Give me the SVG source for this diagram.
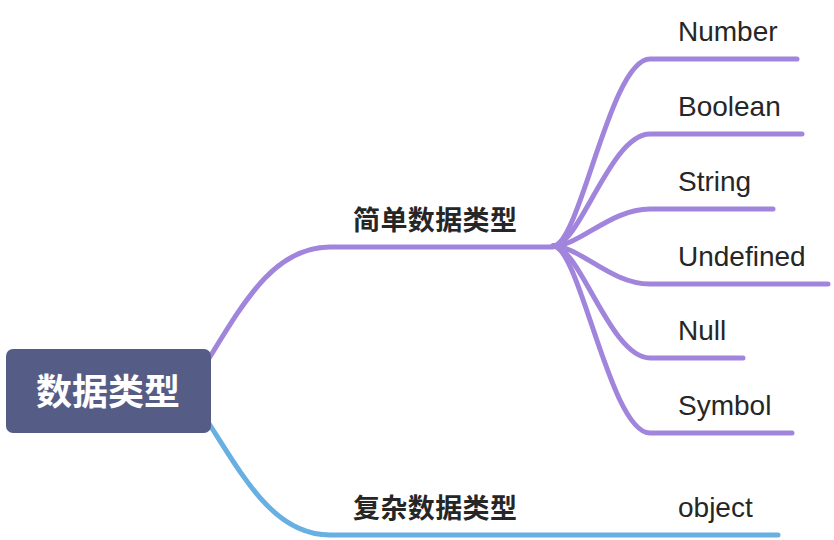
<svg xmlns="http://www.w3.org/2000/svg" width="834" height="540" viewBox="0 0 834 540">
<style>
.p{fill:none;stroke:#a185dd;stroke-width:5;stroke-linecap:round}
.b{fill:none;stroke:#68afe2;stroke-width:5;stroke-linecap:round}
.leaf{font-family:"Liberation Sans","Noto Sans CJK SC",sans-serif;font-size:28px;fill:#262626}
.sub{font-family:"Noto Sans CJK SC",sans-serif;font-size:27px;font-weight:bold;fill:#262626;letter-spacing:0.4px}
.root{font-family:"Noto Sans CJK SC",sans-serif;font-size:36px;font-weight:bold;fill:#ffffff}
</style>
<rect width="834" height="540" fill="#ffffff"/>
<g id="connectors">
<path class="p" d="M208,360 C245,300 275,247 330,247 L553,247"/>
<path class="b" d="M208,422 C245,480 275,535 330,535 L778,535"/>
<path class="p" d="M553,246 C580,246 610,59 650,59 L797,59"/>
<path class="p" d="M553,246 C580,246 610,134 650,134 L802,134"/>
<path class="p" d="M553,246 C580,246 610,209 650,209 L773,209"/>
<path class="p" d="M553,246 C580,246 610,284 650,284 L828,284"/>
<path class="p" d="M553,246 C580,246 610,358 650,358 L743,358"/>
<path class="p" d="M553,246 C580,246 610,433 650,433 L792,433"/>
</g>
<g id="root">
<rect x="6" y="349" width="205" height="84" rx="7" fill="#555d86"/>
<text class="root" x="108" y="405" text-anchor="middle">数据类型</text>
</g>
<g id="simple"><text class="sub" x="353" y="230">简单数据类型</text></g>
<g id="complex"><text class="sub" x="353" y="518">复杂数据类型</text></g>
<g id="number"><text class="leaf" x="678" y="41">Number</text></g>
<g id="boolean"><text class="leaf" x="678" y="116">Boolean</text></g>
<g id="string"><text class="leaf" x="678" y="191">String</text></g>
<g id="undefined"><text class="leaf" x="678" y="266">Undefined</text></g>
<g id="null"><text class="leaf" x="678" y="340">Null</text></g>
<g id="symbol"><text class="leaf" x="678" y="415">Symbol</text></g>
<g id="object"><text class="leaf" x="678" y="517">object</text></g>
</svg>
